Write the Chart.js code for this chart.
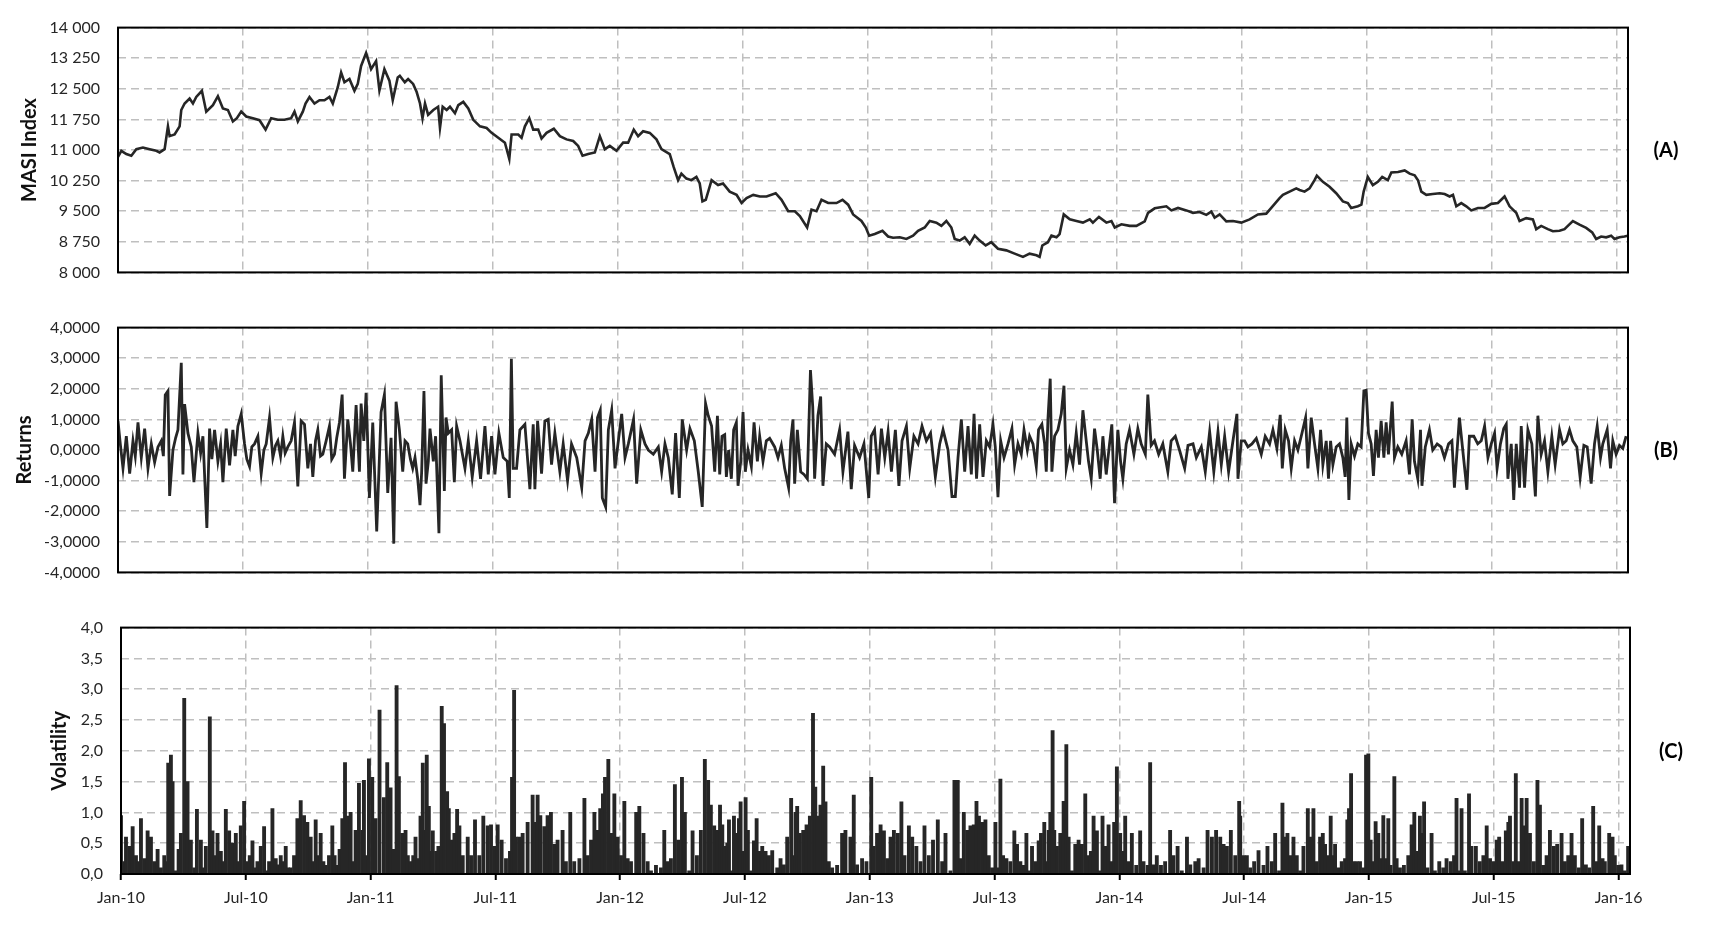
<!DOCTYPE html>
<html>
<head>
<meta charset="utf-8">
<title>MASI Index - Returns - Volatility</title>
<script src="https://cdn.jsdelivr.net/npm/chart.js@4.4.0/dist/chart.umd.min.js"></script>
<style>
	html, body { margin: 0; padding: 0; background: #fff; }
	body { width: 1712px; height: 929px; position: relative; overflow: hidden; }
	canvas { position: absolute; left: 0; }
</style>
</head>
<body>
<canvas id="chartA" width="1712" height="300" style="top:0px"></canvas>
<canvas id="chartB" width="1712" height="300" style="top:300px"></canvas>
<canvas id="chartC" width="1712" height="329" style="top:600px"></canvas>
<script>
/*
 * DATA  (x = months since Jan 2010)
 */
	var xTickMonths = [0, 6, 12, 18, 24, 30, 36, 42, 48, 54, 60, 66, 72];
	var xTickLabels = ['Jan-10', 'Jul-10', 'Jan-11', 'Jul-11', 'Jan-12', 'Jul-12', 'Jan-13',
		'Jul-13', 'Jan-14', 'Jul-14', 'Jan-15', 'Jul-15', 'Jan-16'];

	/* MASI index level */
	var masiMonths = [
		0.00,0.16,0.40,0.64,0.88,1.20,1.52,1.84,2.00,2.24,2.40,2.48,2.72,2.96,3.04,3.20,3.44,3.60,3.76,4.03,
		4.24,4.56,4.80,5.04,5.28,5.52,5.71,5.92,6.16,6.48,6.80,7.09,7.36,7.68,8.00,8.32,8.48,8.64,8.88,9.01,
		9.20,9.44,9.68,9.92,10.16,10.32,10.56,10.72,10.88,11.12,11.36,11.52,11.68,11.92,12.16,12.40,12.56,12.80,13.04,13.20,13.44,
		13.54,13.78,13.94,14.18,14.35,14.51,14.63,14.75,14.90,15.15,15.38,15.47,15.60,15.79,15.95,16.19,16.35,16.59,16.83,17.07,
		17.39,17.71,17.95,18.27,18.59,18.80,18.91,19.23,19.39,19.55,19.76,19.95,20.19,20.35,20.59,20.94,21.23,21.55,21.87,22.11,
		22.32,22.59,22.91,23.15,23.39,23.63,23.95,24.27,24.51,24.78,24.99,25.23,25.55,25.87,26.11,26.51,26.70,26.91,27.07,27.31,
		27.55,27.79,27.95,28.08,28.24,28.52,28.83,29.07,29.39,29.72,29.96,30.20,30.52,30.84,31.16,31.60,31.88,32.20,32.52,32.76,
		33.11,33.32,33.56,33.80,34.12,34.52,34.81,35.08,35.32,35.72,35.93,36.09,36.36,36.73,37.00,37.24,37.56,
		37.88,38.20,38.44,38.76,39.00,39.32,39.56,39.80,40.04,40.20,40.44,40.68,40.92,41.16,41.40,41.69,41.96,42.28,42.68,43.08,
		43.48,43.80,44.13,44.28,44.41,44.68,44.85,45.09,45.24,45.44,45.73,46.05,46.36,46.69,46.84,47.13,47.49,47.73,47.89,48.21,
		48.61,48.93,49.33,49.49,49.81,50.37,50.61,50.93,51.33,51.65,51.97,52.29,52.53,52.69,52.93,53.25,53.57,53.97,54.37,54.77,
		55.17,55.41,55.81,55.97,56.29,56.61,
		56.77,57.01,57.25,57.49,57.60,57.89,58.21,58.53,58.85,59.09,59.25,59.57,59.74,59.85,60.05,60.29,60.53,60.74,61.01,61.18,
		61.50,61.82,62.06,62.30,62.46,62.62,62.86,63.17,63.50,63.74,63.98,64.14,64.30,64.54,64.78,65.02,65.34,65.66,65.98,66.30,
		66.62,66.86,67.18,67.34,67.66,67.98,68.14,68.38,68.70,68.94,69.26,69.50,69.66,69.90,70.22,70.54,70.83,71.02,71.26,71.50,
		71.74,71.90,72.14,72.38,72.54
	];
	var masiValues = [
		10830,10980,10900,10860,11020,11060,11020,10980,10940,11020,11580,11340,11380,11580,11980,12140,12260,12140,12300,12450,
		11940,12100,12320,12020,11980,11700,11780,11940,11820,11780,11730,11500,11780,11740,11740,11780,11940,11700,11940,12140,
		12300,12140,12220,12220,12300,12140,12540,12900,12660,12740,12450,12620,13060,13380,12980,13180,12460,12980,12700,12220,12780,
		12820,12660,12740,12620,12420,12140,11780,12140,11860,11980,12060,11540,12060,11980,12060,11900,12100,12180,12020,11740,
		11580,11540,11420,11300,11180,10780,11380,11380,11300,11580,11780,11500,11500,11280,11420,11520,11340,11260,11220,11100,
		10860,10900,10940,11340,11020,11100,10980,11180,11180,11500,11340,11460,11420,11260,11020,10900,10580,10260,10420,10300,
		10260,10340,10180,9740,9780,10260,10140,10180,9980,9900,9700,9820,9900,9860,9860,9940,9780,9500,9500,9380,
		9100,9540,9500,9780,9700,9700,9780,9660,9420,9260,9100,8900,8940,9020,8880,8850,8860,
		8820,8900,9020,9100,9260,9220,9140,9260,9100,8820,8780,8860,8700,8900,8780,8660,8740,8580,8540,8460,
		8380,8460,8420,8380,8660,8740,8900,8860,8940,9420,9300,9260,9220,9300,9220,9360,9220,9260,9100,9180,
		9140,9140,9250,9460,9570,9620,9520,9580,9520,9460,9480,9410,9490,9340,9420,9250,9260,9220,9300,9420,
		9440,9580,9820,9900,9980,10060,
		10020,9980,10060,10260,10370,10220,10100,9940,9740,9700,9580,9620,9660,9980,10340,10140,10220,10340,10260,10450,
		10460,10500,10420,10380,10260,9980,9900,9920,9940,9920,9860,9900,9620,9700,9620,9520,9580,9580,9680,9700,
		9860,9620,9460,9260,9330,9300,9060,9140,9060,9010,9020,9060,9140,9260,9170,9090,8980,8820,8880,8860,
		8900,8820,8860,8880,8900
	];

	/* daily returns and volatility (sampled) */
	var returnMonths = [
		0.00,0.11,0.24,0.40,0.56,0.72,0.83,0.96,1.12,1.28,1.44,1.60,1.76,1.92,2.08,2.18,2.27,2.40,2.48,2.64,
		2.77,2.88,3.04,3.12,3.20,3.36,3.52,3.65,3.84,3.97,4.08,4.27,4.40,4.51,4.64,4.80,4.93,5.04,5.20,5.36,
		5.52,5.63,5.76,5.92,6.08,6.19,6.32,6.43,6.56,6.72,6.88,7.01,7.12,7.28,7.44,7.57,7.68,7.81,7.92,8.03,
		8.16,8.32,8.48,8.64,8.80,8.96,9.12,9.25,9.36,9.49,9.60,9.73,9.84,10.00,10.16,10.27,10.40,10.51,10.64,10.77,
		10.88,11.04,11.17,11.28,11.44,11.60,11.68,11.81,11.92,12.08,12.24,12.43,12.64,12.80,12.96,13.12,13.25,13.36,13.52,13.68,
		13.79,13.92,14.05,14.16,
		14.27,14.40,14.51,14.59,14.70,14.80,14.91,14.99,15.15,15.26,15.42,15.53,15.68,15.76,15.87,16.03,16.16,16.27,16.43,16.67,
		16.83,17.02,17.23,17.42,17.63,17.79,17.95,18.11,18.30,18.51,18.70,18.80,18.90,18.99,19.15,19.31,19.55,19.79,19.95,20.03,
		20.16,20.35,20.51,20.67,20.83,20.99,21.23,21.39,21.60,21.79,22.04,22.28,22.44,22.60,22.76,22.92,23.04,23.17,23.27,23.43,
		23.56,23.72,23.88,24.04,24.20,24.36,24.52,24.77,24.92,25.12,25.32,25.48,25.72,25.96,26.12,26.28,26.44,26.63,26.79,26.97,
		27.11,27.32,27.48,27.69,27.88,28.07,28.23,28.36,28.52,
		28.67,28.80,28.91,29.02,29.15,29.23,29.34,29.47,29.58,29.71,29.79,29.92,30.03,30.14,30.27,30.43,30.56,30.72,30.83,30.99,
		31.15,31.31,31.55,31.71,31.87,32.03,32.22,32.32,32.43,32.51,32.64,32.80,32.96,33.12,33.27,33.38,33.47,33.63,33.76,33.87,
		34.03,34.19,34.43,34.67,34.83,35.07,35.23,35.39,35.63,35.84,36.07,36.19,36.35,36.52,36.68,36.84,37.00,37.16,37.35,37.52,
		37.67,37.88,38.04,38.24,38.44,38.63,38.84,39.04,39.27,39.48,39.64,39.88,40.07,40.23,40.36,40.52,40.68,40.84,41.00,41.13,
		41.25,41.40,41.56,41.72,41.88,42.04,42.15,42.28,42.41,42.57,42.76,42.95,
		43.08,43.24,43.40,43.53,43.69,43.80,43.96,44.12,44.23,44.39,44.52,44.60,44.68,44.79,44.87,45.00,45.16,45.32,45.45,45.56,
		45.72,45.88,46.04,46.20,46.36,46.52,46.63,46.76,46.92,47.05,47.19,47.32,47.48,47.64,47.75,47.88,48.04,48.17,48.28,48.44,
		48.60,48.81,49.00,49.16,49.36,49.48,49.64,49.80,50.00,50.20,50.44,50.60,50.80,51.00,51.25,51.41,51.65,51.81,52.05,52.24,
		52.45,52.65,52.85,53.01,53.17,53.36,53.57,53.76,53.81,53.97,54.13,54.29,54.48,54.69,54.93,55.12,55.33,55.49,55.68,55.84,
		55.94,56.08,56.24,56.37,56.53,56.69,56.85,57.06,57.17,57.33,
		57.49,57.65,57.78,57.89,58.05,58.16,58.26,58.37,58.53,58.69,58.85,58.96,59.04,59.14,59.25,59.41,59.57,59.73,59.86,59.97,
		60.08,60.21,60.32,60.45,60.56,60.69,60.82,60.93,61.04,61.22,61.33,61.49,61.68,61.89,62.05,62.18,62.29,62.45,62.58,62.65,
		62.81,63.01,63.17,63.38,63.57,63.73,63.93,64.09,64.21,64.34,64.45,64.61,64.81,64.93,65.14,65.33,65.50,65.66,65.82,65.98,
		66.14,66.26,66.42,66.58,66.70,66.78,66.94,67.06,67.18,67.34,67.42,67.58,67.74,67.93,68.10,68.22,68.38,68.54,68.70,68.89,
		69.05,69.26,69.42,69.58,69.74,69.90,70.09,70.25,70.43,70.59,70.78,70.94,71.07,71.23,71.34,71.55,71.71,71.82,71.98,72.14,
		72.30,72.46
	];
	var returnValues = [
		0.95,0.2,-0.6,0.45,-0.77,0.3,-0.2,0.9,-0.25,0.7,-0.6,0.2,-0.4,0.1,0.3,-0.2,1.8,1.93,-1.5,0.0,
		0.4,0.66,2.85,-0.8,1.5,0.55,0.1,-1.05,0.55,-0.1,0.45,-2.55,0.7,-0.3,0.66,-0.37,0.2,-1.05,0.7,-0.5,
		0.66,-0.2,0.78,1.18,0.2,-0.3,-0.54,0.1,0.2,0.45,-0.77,0.0,0.2,1.06,-0.25,0.15,0.3,-0.2,0.45,-0.1,
		0.1,0.3,0.9,-1.19,0.95,0.84,-0.6,0.2,-0.88,0.3,0.66,-0.2,-0.14,0.3,0.78,-0.3,-0.14,0.4,0.9,1.81,
		-0.94,1.0,0.2,-0.71,1.47,-0.71,1.52,0.3,1.87,-1.57,0.9,-2.66,1.24,1.81,-1.4,0.4,-3.06,1.58,0.66,-0.71,
		0.3,0.2,-0.3,-0.6,
		-0.25,-0.94,-1.8,-0.71,1.93,-1.1,-0.37,0.7,-0.37,0.45,-2.72,2.44,-1.34,1.06,0.55,0.66,-1.05,0.78,0.3,-0.6,
		0.3,-0.88,0.3,-0.94,0.78,-0.8,0.45,-0.8,0.55,-0.25,-0.37,-1.57,2.98,-0.6,-0.6,0.66,0.84,-1.28,0.84,-1.28,
		0.95,-0.77,0.95,1.0,-0.48,0.55,-0.71,0.2,-1.0,0.2,-0.25,-1.23,0.3,0.55,1.0,-0.71,1.06,1.3,-1.57,-1.86,
		0.66,1.3,-0.6,0.3,1.18,-0.25,0.2,1.0,-1.1,0.66,0.2,0.0,-0.14,0.1,-0.71,0.2,-0.25,-1.45,0.55,-1.57,
		1.0,0.0,0.7,0.3,-0.71,-1.86,1.52,1.12,0.78,
		-0.71,1.12,-0.8,0.45,0.5,-0.88,0.0,-0.94,0.66,0.9,-1.17,-0.37,1.24,-0.71,0.0,-0.54,0.9,-0.37,0.45,-0.37,
		0.3,0.38,0.1,-0.25,0.15,-0.6,-1.23,0.3,1.0,-1.1,0.66,-0.71,-0.8,-0.94,2.61,1.41,-0.94,1.12,1.75,-1.17,
		0.2,0.1,-0.14,0.66,-0.71,0.6,-1.28,0.15,-0.25,0.2,-1.57,0.45,0.66,-0.8,0.7,-0.25,0.6,-0.71,0.66,-1.17,
		0.3,0.78,-0.6,0.45,0.2,0.78,0.3,0.55,-0.88,0.2,0.66,0.0,-1.52,-1.52,-0.25,1.0,-0.71,0.78,-0.8,1.18,
		-0.94,0.84,-0.88,0.3,0.1,0.84,0.1,-1.54,0.3,-0.25,0.2,0.7,
		-0.48,0.2,-0.14,0.66,0.0,0.45,0.2,-0.54,0.66,0.84,0.2,-0.71,1.0,2.33,-0.71,0.45,0.66,1.18,2.1,-0.6,
		0.0,-0.48,0.55,-0.48,1.3,0.3,-0.37,-0.94,0.7,0.0,-0.94,0.45,-0.8,0.2,0.84,-1.74,0.66,-0.37,-0.94,0.2,
		0.66,-0.14,0.7,0.2,-0.14,1.81,0.15,0.3,-0.14,0.2,-0.71,0.3,0.45,0.0,-0.6,0.15,0.2,-0.25,0.1,-0.71,
		0.6,-0.71,0.6,-0.48,0.45,-0.71,0.3,1.18,-0.94,0.3,0.3,0.1,0.2,0.38,-0.14,0.45,0.2,0.66,0.05,1.15,
		-0.6,0.66,0.3,-0.6,0.3,0.0,0.45,1.06,-0.6,1.06,
		0.2,-0.6,0.66,-0.48,0.3,-0.94,0.3,-0.48,0.1,0.2,-0.25,-0.88,1.06,-1.63,0.2,-0.2,0.2,0.1,1.93,1.95,
		0.55,0.2,-0.85,0.66,-0.25,0.95,-0.25,0.9,-0.14,1.58,-0.25,0.1,-0.14,0.3,-0.8,1.0,-0.37,-0.94,0.66,-1.17,
		0.1,0.66,0.0,0.2,0.1,-0.25,0.2,0.3,-1.23,0.0,1.06,0.0,-1.3,0.45,0.45,0.2,0.3,0.78,-0.25,0.2,
		0.55,-0.6,0.2,0.7,0.84,-0.94,0.2,-1.63,0.2,-1.23,0.78,-1.23,0.66,0.2,-1.52,1.12,-0.14,0.3,-0.71,0.45,
		-0.48,0.66,0.2,0.3,0.66,0.3,0.1,-0.9,0.15,0.1,-1.1,0.2,0.78,-0.25,0.2,0.66,-0.6,0.3,-0.14,0.15,
		0.05,0.45
	];
	var volatilityValues = [
		0.95,0.2,0.6,0.45,0.77,0.3,0.2,0.9,0.25,0.7,0.6,0.2,0.4,0.1,0.3,0.2,1.8,1.93,1.5,0.05,
		0.4,0.66,2.85,0.8,1.5,0.55,0.1,1.05,0.55,0.1,0.45,2.55,0.7,0.3,0.66,0.37,0.2,1.05,0.7,0.5,
		0.66,0.2,0.78,1.18,0.2,0.3,0.54,0.1,0.2,0.45,0.77,0.05,0.2,1.06,0.25,0.15,0.3,0.2,0.45,0.1,
		0.1,0.3,0.9,1.19,0.95,0.84,0.6,0.2,0.88,0.3,0.66,0.2,0.14,0.3,0.78,0.3,0.14,0.4,0.9,1.81,
		0.94,1.0,0.2,0.71,1.47,0.71,1.52,0.3,1.87,1.57,0.9,2.66,1.24,1.81,1.4,0.4,3.06,1.58,0.66,0.71,
		0.3,0.2,0.3,0.6,
		0.25,0.94,1.8,0.71,1.93,1.1,0.37,0.7,0.37,0.45,2.72,2.44,1.34,1.06,0.55,0.66,1.05,0.78,0.3,0.6,
		0.3,0.88,0.3,0.94,0.78,0.8,0.45,0.8,0.55,0.25,0.37,1.57,2.98,0.6,0.6,0.66,0.84,1.28,0.84,1.28,
		0.95,0.77,0.95,1.0,0.48,0.55,0.71,0.2,1.0,0.2,0.25,1.23,0.3,0.55,1.0,0.71,1.06,1.3,1.57,1.86,
		0.66,1.3,0.6,0.3,1.18,0.25,0.2,1.0,1.1,0.66,0.2,0.05,0.14,0.1,0.71,0.2,0.25,1.45,0.55,1.57,
		1.0,0.05,0.7,0.3,0.71,1.86,1.52,1.12,0.78,
		0.71,1.12,0.8,0.45,0.5,0.88,0.05,0.94,0.66,0.9,1.17,0.37,1.24,0.71,0.05,0.54,0.9,0.37,0.45,0.37,
		0.3,0.38,0.1,0.25,0.15,0.6,1.23,0.3,1.0,1.1,0.66,0.71,0.8,0.94,2.61,1.41,0.94,1.12,1.75,1.17,
		0.2,0.1,0.14,0.66,0.71,0.6,1.28,0.15,0.25,0.2,1.57,0.45,0.66,0.8,0.7,0.25,0.6,0.71,0.66,1.17,
		0.3,0.78,0.6,0.45,0.2,0.78,0.3,0.55,0.88,0.2,0.66,0.05,1.52,1.52,0.25,1.0,0.71,0.78,0.8,1.18,
		0.94,0.84,0.88,0.3,0.1,0.84,0.1,1.54,0.3,0.25,0.2,0.7,
		0.48,0.2,0.14,0.66,0.05,0.45,0.2,0.54,0.66,0.84,0.2,0.71,1.0,2.33,0.71,0.45,0.66,1.18,2.1,0.6,
		0.05,0.48,0.55,0.48,1.3,0.3,0.37,0.94,0.7,0.05,0.94,0.45,0.8,0.2,0.84,1.74,0.66,0.37,0.94,0.2,
		0.66,0.14,0.7,0.2,0.14,1.81,0.15,0.3,0.14,0.2,0.71,0.3,0.45,0.05,0.6,0.15,0.2,0.25,0.1,0.71,
		0.6,0.71,0.6,0.48,0.45,0.71,0.3,1.18,0.94,0.3,0.3,0.1,0.2,0.38,0.14,0.45,0.2,0.66,0.05,1.15,
		0.6,0.66,0.3,0.6,0.3,0.05,0.45,1.06,0.6,1.06,
		0.2,0.6,0.66,0.48,0.3,0.94,0.3,0.48,0.1,0.2,0.25,0.88,1.06,1.63,0.2,0.2,0.2,0.1,1.93,1.95,
		0.55,0.2,0.85,0.66,0.25,0.95,0.25,0.9,0.14,1.58,0.25,0.1,0.14,0.3,0.8,1.0,0.37,0.94,0.66,1.17,
		0.1,0.66,0.05,0.2,0.1,0.25,0.2,0.3,1.23,0.05,1.06,0.05,1.3,0.45,0.45,0.2,0.3,0.78,0.25,0.2,
		0.55,0.6,0.2,0.7,0.84,0.94,0.2,1.63,0.2,1.23,0.78,1.23,0.66,0.2,1.52,1.12,0.14,0.3,0.71,0.45,
		0.48,0.66,0.2,0.3,0.66,0.3,0.1,0.9,0.15,0.1,1.1,0.2,0.78,0.25,0.2,0.66,0.6,0.3,0.14,0.15,
		0.05,0.45
	];

/*
 * STYLE
 */
	var X_MAX = 72.55;
	var INK = '#262626';
	var GRID = '#bfbfbf';
	Chart.defaults.font.family = 'Lato, "Open Sans", sans-serif';
	Chart.defaults.color = INK;

/*
 * HELPERS
 */
	/* PAIRS - x/y objects for a linear x axis */
	function toPoints(xs, ys) {
		var pts = [];
		var n = Math.min(xs.length, ys.length);
		for (var i = 0; i < n; i++) {
			pts.push({ x: xs[i], y: ys[i] });
		}
		return pts;
	}

	function spaceThousands(v) {
		return String(Math.round(v)).replace(/\B(?=(\d{3})+(?!\d))/g, ' ');
	}

	/* PLUGIN - black frame round the plot and the (A)/(B)/(C) tag */
	var panelFrame = {
		id: 'panelFrame',
		afterDatasetsDraw: function(chart, args, opts) {
			var a = chart.chartArea;
			var ctx = chart.ctx;
			ctx.save();
			ctx.strokeStyle = '#000';
			ctx.lineWidth = 2;
			ctx.strokeRect(a.left, a.top, a.right - a.left, a.bottom - a.top);
			ctx.fillStyle = '#000';
			ctx.font = 'bold 20px Lato, sans-serif';
			ctx.textAlign = 'center';
			ctx.textBaseline = 'middle';
			ctx.fillText(opts.label, opts.labelX, (a.top + a.bottom) / 2 + 1);
			ctx.restore();
		}
	};

	/* X AXIS - Jan/Jul gridlines */
	function xAxis(showLabels) {
		return {
			type: 'linear',
			min: 0,
			max: X_MAX,
			offset: false,
			afterBuildTicks: function(scale) {
				scale.ticks = xTickMonths.map(function(m) { return { value: m }; });
			},
			afterFit: function(scale) {
				scale.height = showLabels ? 55 : 0;
			},
			grid: {
				color: GRID,
				lineWidth: 1.5,
				offset: false,
				drawTicks: showLabels,
				tickLength: 6,
				tickColor: '#000',
				tickWidth: 2,
				tickBorderDash: []
			},
			border: { display: false, dash: [8, 5] },
			ticks: {
				display: showLabels,
				autoSkip: false,
				maxRotation: 0,
				padding: 8,
				font: { size: 16 },
				color: INK,
				callback: function(v, i) { return xTickLabels[i]; }
			}
		};
	}

	/* Y AXIS */
	function yAxis(cfg) {
		return {
			min: cfg.min,
			max: cfg.max,
			afterFit: function(scale) { scale.width = cfg.width; },
			grid: { color: GRID, lineWidth: 1.5, drawTicks: false },
			border: { display: false, dash: [8, 5] },
			ticks: {
				stepSize: cfg.step,
				padding: 18,
				font: { size: 16 },
				color: INK,
				callback: cfg.format
			},
			title: {
				display: true,
				text: cfg.title,
				color: '#111',
				font: { size: 20, weight: 'bold' },
				padding: { top: cfg.titlePad, bottom: 0 }
			}
		};
	}

	function baseOptions(cfg) {
		return {
			responsive: false,
			animation: false,
			events: [],
			layout: { padding: cfg.padding },
			plugins: {
				legend: { display: false },
				tooltip: { enabled: false },
				panelFrame: { label: cfg.label, labelX: cfg.labelX }
			},
			scales: {
				x: xAxis(cfg.showX),
				y: yAxis(cfg.y)
			}
		};
	}

/*
 * CHARTS
 */
	/* (A) MASI Index */
	new Chart(document.getElementById('chartA'), {
		type: 'line',
		data: {
			datasets: [{
				data: toPoints(masiMonths, masiValues),
				borderColor: INK,
				borderWidth: 2.6,
				pointRadius: 0,
				tension: 0
			}]
		},
		options: baseOptions({
			padding: { top: 23, right: 84, bottom: 27, left: 0 },
			label: '(A)', labelX: 1666, showX: false,
			y: { min: 8000, max: 14000, step: 750, width: 118, title: 'MASI Index', titlePad: 18,
				format: function(v) { return spaceThousands(v); } }
		}),
		plugins: [panelFrame]
	});

	/* (B) Returns */
	new Chart(document.getElementById('chartB'), {
		type: 'line',
		data: {
			datasets: [{
				data: toPoints(returnMonths, returnValues),
				borderColor: INK,
				borderWidth: 2.8,
				pointRadius: 0,
				tension: 0
			}]
		},
		options: baseOptions({
			padding: { top: 23, right: 84, bottom: 27, left: 0 },
			label: '(B)', labelX: 1666, showX: false,
			y: { min: -4, max: 4, step: 1, width: 118, title: 'Returns', titlePad: 13,
				format: function(v) { return v.toFixed(4).replace('.', ','); } }
		}),
		plugins: [panelFrame]
	});

	/* (C) Volatility */
	new Chart(document.getElementById('chartC'), {
		type: 'bar',
		data: {
			datasets: [{
				data: toPoints(returnMonths, volatilityValues),
				backgroundColor: INK,
				borderWidth: 0,
				barThickness: 3.2,
				grouped: false
			}]
		},
		options: baseOptions({
			padding: { top: 26, right: 82, bottom: 0, left: 0 },
			label: '(C)', labelX: 1671, showX: true,
			y: { min: 0, max: 4, step: 0.5, width: 121, title: 'Volatility', titlePad: 48,
				format: function(v) { return v.toFixed(1).replace('.', ','); } }
		}),
		plugins: [panelFrame]
	});
</script>
</body>
</html>
